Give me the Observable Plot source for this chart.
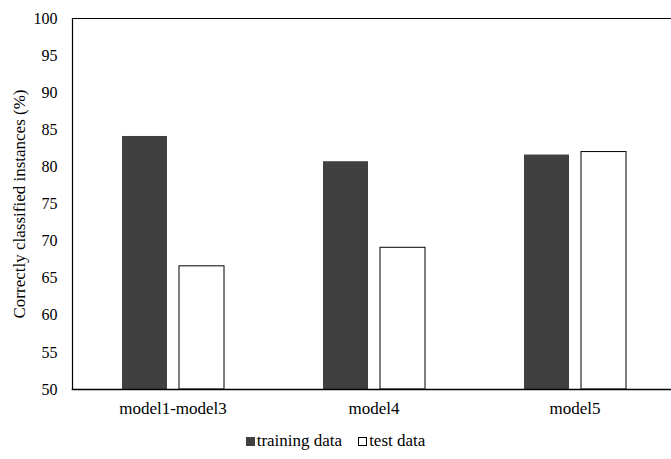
<!DOCTYPE html>
<html>
<head>
<meta charset="utf-8">
<script src="https://cdn.jsdelivr.net/npm/d3@7"></script>
<script src="https://cdn.jsdelivr.net/npm/@observablehq/plot@0.6"></script>
<style>
  html, body { margin: 0; padding: 0; background: #fff; }
  .legend { font-size: 17px; color: #000; display: flex; justify-content: center; gap: 16px; margin-top: 6px; }
  .legend span { display: inline-flex; align-items: center; }
  .sw { width: 9px; height: 9px; display: inline-block; margin-right: 2px; box-sizing: border-box; }
</style>
</head>
<body>
<div id="chart"></div>
<div class="legend" style="font-family:'Liberation Serif'">
  <span><b class="sw" style="background:#404040"></b>training data</span>
  <span><b class="sw" style="background:#fff;border:1px solid #000"></b>test data</span>
</div>
<script>
const categories = ["model1-model3", "model4", "model5"];
const training = [84.1, 80.7, 81.6];
const test = [66.6, 69.1, 82.0];
const yTicks = [50, 55, 60, 65, 70, 75, 80, 85, 90, 95, 100];

const trainData = categories.map((c, i) => ({cat: c, value: training[i]}));
const testData = categories.map((c, i) => ({cat: c, value: test[i]}));

const chart = Plot.plot({
  width: 671,
  height: 425,
  marginTop: 18,
  marginBottom: 36,
  marginLeft: 72,
  marginRight: 0,
  style: {fontFamily: "Liberation Serif", fontSize: "16px", color: "#000", background: "#fff"},
  x: {domain: categories, range: [72, 675], padding: 0, label: null},
  y: {domain: [50, 100], ticks: yTicks, label: null},
  marks: [
    Plot.barY(trainData, {x: "cat", y1: 50, y2: "value", fill: "#404040", insetLeft: 50, insetRight: 106}),
    Plot.barY(testData, {x: "cat", y1: 50, y2: "value", fill: "#fff", stroke: "#000", strokeWidth: 1, insetLeft: 107, insetRight: 49}),
    Plot.axisY({ticks: yTicks, tickSize: 0, tickPadding: 15, label: null, fontSize: 16}),
    Plot.axisX({tickSize: 0, tickPadding: 12, label: null, fontSize: 17}),
    Plot.text(["Correctly classified instances (%)"], {frameAnchor: "left", textAnchor: "middle", dx: -53, rotate: -90, fontSize: 17}),
    Plot.frame({anchor: "left", stroke: "#000", strokeWidth: 1.2}),
    Plot.frame({anchor: "bottom", stroke: "#000", strokeWidth: 1.5}),
    Plot.frame({anchor: "top", stroke: "#000", strokeWidth: 1.2})
  ]
});
document.getElementById("chart").appendChild(chart);
</script>
</body>
</html>
